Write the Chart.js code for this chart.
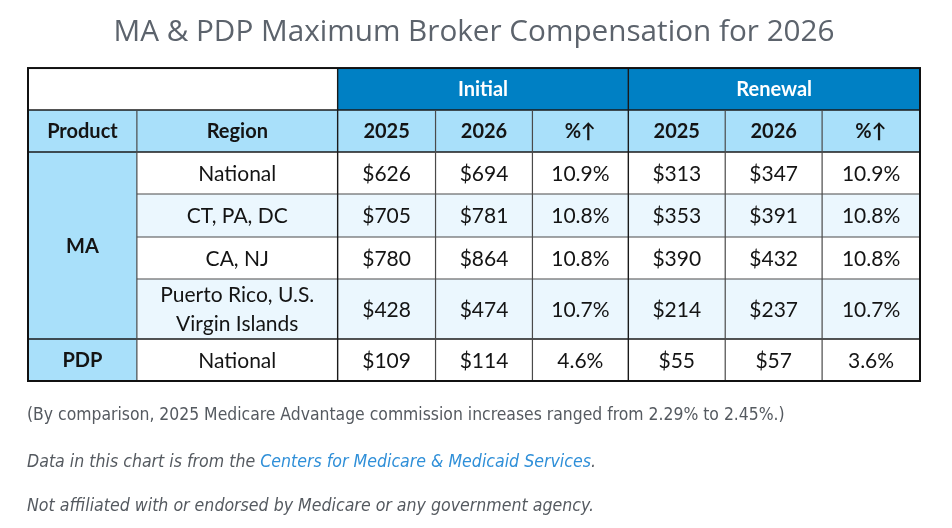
<!DOCTYPE html>
<html>
<head>
<meta charset="utf-8">
<script src="https://cdn.jsdelivr.net/npm/chart.js@4.4.1/dist/chart.umd.min.js"></script>
<style>
  html, body { margin: 0; padding: 0; background: #fff; }
  #wrap { width: 952px; height: 528px; position: relative; }
</style>
</head>
<body>
<div id="wrap"><canvas id="brokerTable"></canvas></div>
<script>
// Table content
const groups = ['Initial', 'Renewal'];
const headers = ['Product', 'Region'];
const years = ['2025', '2026'];
const products = ['MA', 'PDP'];
const productRowCounts = [4, 1];
const regions = ['National', 'CT, PA, DC', 'CA, NJ', 'Puerto Rico, U.S.\nVirgin Islands', 'National'];
const initial2025 = [626, 705, 780, 428, 109];
const initial2026 = [694, 781, 864, 474, 114];
const initialPct = [10.9, 10.8, 10.8, 10.7, 4.6];
const renewal2025 = [313, 353, 390, 214, 55];
const renewal2026 = [347, 391, 432, 237, 57];
const renewalPct = [10.9, 10.8, 10.8, 10.7, 3.6];
const notes = [
    '(By comparison, 2025 Medicare Advantage commission increases ranged from 2.29% to 2.45%.)',
    'Not affiliated with or endorsed by Medicare or any government agency.'
];
const sourceText = ['Data in this chart is from the ', 'Centers for Medicare & Medicaid Services', '.'];

// layout (grid units on the hidden linear scales)
const colWidths = [109, 201, 98, 97, 96, 97, 97, 98];
const rowHeights = [42, 42, 42, 43, 42, 60, 42];
const colEdges = [0];
colWidths.forEach(w => colEdges.push(colEdges[colEdges.length - 1] + w));
const rowEdges = [0];
rowHeights.forEach(h => rowEdges.push(rowEdges[rowEdges.length - 1] + h));

const BLUE = '#0080c4';
const LIGHT = '#a9e0fa';
const ALT = '#ebf7fe';
const TXT = '#141414';
const tableFont = 'Lato, "Noto Sans", sans-serif';
const noteFont = '"Liberation Sans Narrow", "DejaVu Sans Condensed", sans-serif';

const tablePlugin = {
    id: 'tableCells',
    afterDraw(chart) {
        const { ctx, scales: { x, y } } = chart;
        const X = c => x.getPixelForValue(colEdges[c]);
        const Y = r => y.getPixelForValue(rowEdges[r]);
        const fill = (c0, c1, r0, r1, color) => {
            ctx.fillStyle = color;
            ctx.fillRect(X(c0), Y(r0), X(c1) - X(c0), Y(r1) - Y(r0));
        };
        const text = (str, c0, c1, r0, r1, font, color) => {
            ctx.font = font;
            ctx.fillStyle = color;
            ctx.textAlign = 'center';
            ctx.textBaseline = 'middle';
            const lines = str.split('\n');
            const cx = (X(c0) + X(c1)) / 2;
            const cy = (Y(r0) + Y(r1)) / 2;
            lines.forEach((ln, i) => {
                ctx.fillText(ln, cx, cy + (i - (lines.length - 1) / 2) * 29 + 1);
            });
        };
        const hline = (r, c0, c1, color, w) => {
            ctx.strokeStyle = color; ctx.lineWidth = w;
            ctx.beginPath(); ctx.moveTo(X(c0), Y(r)); ctx.lineTo(X(c1), Y(r)); ctx.stroke();
        };
        const vline = (c, r0, r1, color, w) => {
            ctx.strokeStyle = color; ctx.lineWidth = w;
            ctx.beginPath(); ctx.moveTo(X(c), Y(r0)); ctx.lineTo(X(c), Y(r1)); ctx.stroke();
        };

        ctx.save();
        // backgrounds
        fill(0, 2, 0, 1, '#ffffff');
        fill(2, 5, 0, 1, BLUE);
        fill(5, 8, 0, 1, BLUE);
        fill(0, 8, 1, 2, LIGHT);
        regions.forEach((_, i) => fill(1, 8, i + 2, i + 3, i % 2 === 1 && i < 4 ? ALT : '#ffffff'));
        fill(0, 1, 2, 7, LIGHT);

        // grid lines
        const inner = '#4a4a4a';
        const dark = '#1a1a1a';
        [3, 4, 5].forEach(r => hline(r, 1, 8, inner, 1.2));
        hline(1, 0, 8, dark, 1.4);
        hline(2, 0, 8, dark, 1.4);
        hline(6, 0, 8, dark, 1.4);
        [1, 3, 4, 6, 7].forEach(c => vline(c, 1, 7, inner, 1.2));
        vline(2, 0, 7, dark, 1.4);
        vline(5, 0, 7, dark, 1.4);
        ctx.strokeStyle = '#111'; ctx.lineWidth = 2;
        ctx.strokeRect(X(0), Y(0), X(8) - X(0), Y(7) - Y(0));

        // header texts
        const bold = 'bold 20px ' + tableFont;
        text(groups[0], 2, 5, 0, 1, bold, '#ffffff');
        text(groups[1], 5, 8, 0, 1, bold, '#ffffff');
        text(headers[0], 0, 1, 1, 2, bold, TXT);
        text(headers[1], 1, 2, 1, 2, bold, TXT);
        [0, 1].forEach(g => {
            text(years[0], 2 + g * 3, 3 + g * 3, 1, 2, bold, TXT);
            text(years[1], 3 + g * 3, 4 + g * 3, 1, 2, bold, TXT);
            text('%\u2191', 4 + g * 3, 5 + g * 3, 1, 2, bold, TXT);
        });

        // products
        let r = 2;
        products.forEach((p, i) => {
            text(p, 0, 1, r, r + productRowCounts[i], bold, TXT);
            r += productRowCounts[i];
        });

        // data rows
        const reg = '21px ' + tableFont;
        regions.forEach((name, i) => {
            const rr = i + 2;
            text(name, 1, 2, rr, rr + 1, reg, TXT);
            text('$' + initial2025[i], 2, 3, rr, rr + 1, reg, TXT);
            text('$' + initial2026[i], 3, 4, rr, rr + 1, reg, TXT);
            text(initialPct[i].toFixed(1) + '%', 4, 5, rr, rr + 1, reg, TXT);
            text('$' + renewal2025[i], 5, 6, rr, rr + 1, reg, TXT);
            text('$' + renewal2026[i], 6, 7, rr, rr + 1, reg, TXT);
            text(renewalPct[i].toFixed(1) + '%', 7, 8, rr, rr + 1, reg, TXT);
        });

        // footnotes
        const left = X(0) - 1;
        const bottom = Y(7);
        ctx.textAlign = 'left';
        ctx.textBaseline = 'middle';
        ctx.fillStyle = '#555a60';
        ctx.font = '17.4px ' + noteFont;
        ctx.fillText(notes[0], left, bottom + 34);
        ctx.font = 'italic 17.6px ' + noteFont;
        let cx = left;
        const colors = ['#555a60', '#2f8fd8', '#555a60'];
        sourceText.forEach((s, i) => {
            ctx.fillStyle = colors[i];
            ctx.fillText(s, cx, bottom + 81);
            cx += ctx.measureText(s).width;
        });
        ctx.fillStyle = '#555a60';
        ctx.fillText(notes[1], left, bottom + 125);
        ctx.restore();
    }
};

new Chart(document.getElementById('brokerTable').getContext('2d'), {
    type: 'scatter',
    data: { datasets: [] },
    options: {
        responsive: true,
        maintainAspectRatio: false,
        animation: false,
        layout: { padding: { left: 28, right: 32, top: 0, bottom: 147 } },
        scales: {
            x: { type: 'linear', display: false, min: 0, max: colEdges[colEdges.length - 1] },
            y: { type: 'linear', display: false, reverse: true, min: 0, max: rowEdges[rowEdges.length - 1] }
        },
        plugins: {
            legend: { display: false },
            tooltip: { enabled: false },
            title: {
                display: true,
                text: 'MA & PDP Maximum Broker Compensation for 2026',
                color: '#5c636c',
                font: { family: '"Open Sans", sans-serif', size: 29.7, weight: 'normal', lineHeight: 1.2 },
                padding: { top: 15, bottom: 17.4 }
            }
        }
    },
    plugins: [tablePlugin]
});
</script>
</body>
</html>
